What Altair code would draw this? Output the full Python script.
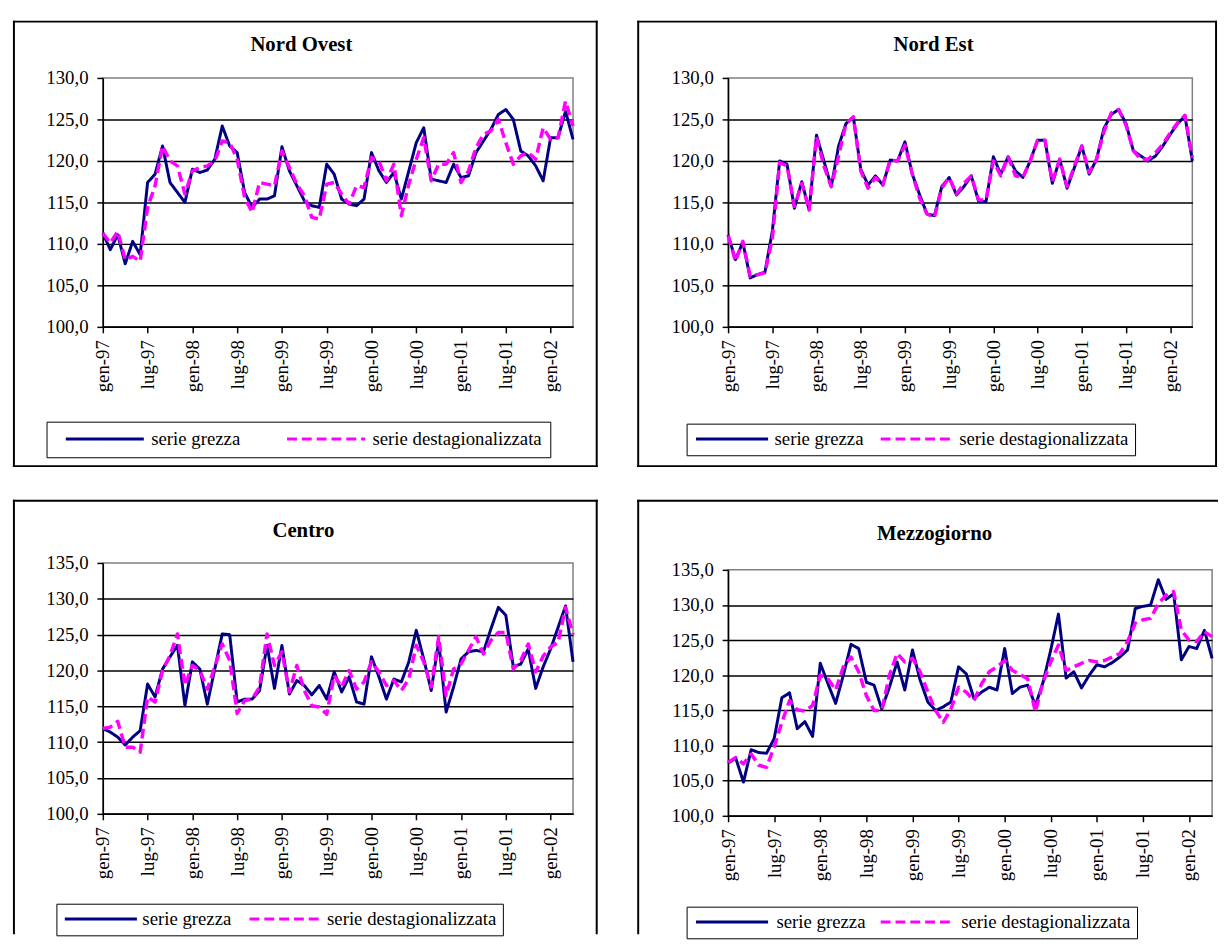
import altair as alt
import pandas as pd

# ---- categories ----
mesi = ["gen", "feb", "mar", "apr", "mag", "giu", "lug", "ago", "set", "ott", "nov", "dic"]
anni = ["97", "98", "99", "00", "01", "02"]
periodi = [f"{m}-{a}" for a in anni for m in mesi][:64]          # gen-97 ... apr-02
etichette = ["gen-97", "lug-97", "gen-98", "lug-98", "gen-99", "lug-99",
             "gen-00", "lug-00", "gen-01", "lug-01", "gen-02"]
serie = ["serie grezza", "serie destagionalizzata"]
titoli = ["Nord Ovest", "Nord Est", "Centro", "Mezzogiorno"]

# ---- values ----
no_grezza = [111.3, 109.3, 111.1, 107.6, 110.3, 108.7, 117.4, 118.4, 121.8, 117.4,
             116.2, 115.0, 119.0, 118.6, 118.9, 120.2, 124.2, 121.8, 121.0, 116.2,
             114.4, 115.4, 115.4, 115.8, 121.7, 118.8, 117.0, 115.2, 114.6, 114.4,
             119.6, 118.4, 115.4, 114.8, 114.6, 115.4, 121.0, 118.8, 117.4, 118.6,
             115.4, 118.8, 122.2, 124.0, 117.8, 117.6, 117.4, 119.6, 118.0, 118.2,
             121.0, 122.4, 123.8, 125.6, 126.2, 125.0, 121.2, 120.6, 119.4, 117.6,
             122.8, 122.8, 126.0, 122.6]
no_dest = [111.3, 110.1, 111.5, 108.1, 108.5, 107.9, 114.4, 117.0, 121.8, 120.0,
           119.4, 116.0, 118.8, 119.2, 119.4, 120.0, 122.4, 122.2, 120.2, 115.6,
           113.8, 117.4, 117.2, 117.0, 121.2, 119.2, 117.2, 115.8, 113.2, 113.0,
           117.2, 117.4, 116.0, 114.8, 117.0, 116.8, 120.4, 120.0, 117.6, 119.6,
           113.4, 117.2, 120.2, 122.8, 117.6, 119.6, 119.6, 121.0, 117.4, 118.8,
           121.6, 123.2, 123.6, 125.0, 122.2, 119.6, 120.6, 121.0, 120.2, 124.0,
           122.6, 122.8, 127.2, 124.2]

ne_grezza = [111.1, 108.1, 110.2, 105.9, 106.3, 106.6, 111.5, 120.0, 119.6, 114.3,
             117.5, 114.1, 123.1, 120.0, 116.9, 121.8, 124.5, 125.3, 119.0, 117.1,
             118.2, 117.1, 120.1, 120.0, 122.3, 118.4, 115.9, 113.6, 113.4, 116.9,
             118.0, 115.9, 116.9, 118.2, 115.1, 115.1, 120.5, 118.4, 120.5, 118.8,
             118.0, 120.0, 122.5, 122.5, 117.3, 120.2, 116.7, 119.2, 121.8, 118.4,
             120.2, 123.9, 125.6, 126.2, 124.5, 121.2, 120.6, 120.0, 120.6, 121.8,
             123.2, 124.5, 125.4, 120.0]
ne_dest = [111.0, 107.9, 110.3, 106.1, 106.3, 106.5, 110.6, 119.8, 119.4, 114.5,
           117.3, 114.1, 122.9, 119.4, 116.9, 120.6, 124.5, 125.3, 118.8, 116.7,
           118.0, 117.1, 120.1, 120.0, 121.9, 118.4, 115.5, 113.6, 113.2, 116.7,
           118.0, 116.0, 117.3, 118.2, 115.3, 115.3, 120.0, 118.2, 120.5, 118.2,
           118.0, 120.0, 122.5, 122.5, 117.5, 120.2, 116.9, 119.4, 121.8, 118.6,
           120.2, 123.5, 125.8, 126.2, 124.3, 121.2, 120.2, 120.2, 121.0, 122.0,
           123.4, 124.6, 125.5, 120.4]

ce_grezza = [111.9, 111.4, 110.7, 109.6, 110.7, 111.6, 118.1, 116.3, 120.2, 121.9,
             123.5, 115.1, 121.2, 120.2, 115.3, 120.2, 125.1, 125.0, 115.6, 116.0,
             116.0, 117.2, 123.5, 117.5, 123.5, 116.7, 118.6, 117.9, 116.6, 117.9,
             116.0, 119.8, 117.0, 119.1, 115.6, 115.3, 121.9, 119.1, 116.0, 118.8,
             118.4, 121.2, 125.6, 121.6, 117.2, 124.0, 114.2, 117.7, 121.6, 122.6,
             122.8, 122.6, 125.8, 128.8, 127.7, 120.5, 120.9, 123.0, 117.5, 120.5,
             123.0, 126.0, 129.0, 121.2]
ce_dest = [111.9, 112.1, 112.9, 109.3, 109.3, 108.6, 116.3, 115.6, 120.0, 122.1,
           125.1, 117.9, 120.7, 120.0, 117.4, 120.5, 123.7, 121.4, 114.0, 115.8,
           116.0, 117.7, 125.1, 120.7, 122.6, 117.0, 120.7, 117.2, 115.1, 114.9,
           113.9, 119.3, 117.7, 120.0, 117.4, 118.4, 121.2, 119.8, 117.9, 118.6,
           117.2, 118.8, 123.5, 121.2, 117.7, 124.7, 116.5, 120.2, 120.9, 122.8,
           124.7, 122.3, 124.2, 125.3, 125.3, 120.2, 121.4, 123.7, 119.8, 122.0,
           123.3, 123.9, 128.8, 125.0]

me_grezza = [107.5, 108.2, 104.8, 109.4, 109.0, 108.9, 111.0, 116.8, 117.5, 112.4,
             113.4, 111.3, 121.7, 118.8, 116.0, 120.0, 124.4, 123.8, 119.0, 118.6,
             115.2, 118.3, 121.9, 117.9, 123.6, 119.3, 116.2, 115.0, 115.5, 116.2,
             121.2, 120.2, 116.7, 117.6, 118.3, 117.9, 123.8, 117.4, 118.3, 118.6,
             115.7, 119.0, 123.6, 128.7, 119.6, 120.5, 118.2, 120.0, 121.5, 121.2,
             121.8, 122.6, 123.6, 129.5, 129.8, 130.0, 133.6, 130.8, 131.6, 122.2,
             124.1, 123.8, 126.4, 122.4]
me_dest = [107.6, 108.3, 107.4, 108.8, 107.2, 106.9, 109.8, 113.3, 116.4, 115.1,
           114.9, 115.7, 120.0, 119.5, 117.9, 121.2, 122.6, 120.5, 117.1, 115.0,
           115.0, 120.0, 123.1, 121.9, 122.4, 120.5, 117.6, 115.0, 113.3, 115.2,
           118.3, 117.6, 116.4, 118.8, 120.5, 121.2, 122.1, 120.7, 120.1, 119.5,
           114.8, 119.0, 121.9, 124.3, 120.7, 121.2, 121.7, 122.1, 121.9, 122.1,
           122.6, 123.1, 124.8, 127.4, 127.9, 128.1, 130.2, 131.4, 131.9, 126.4,
           125.0, 124.8, 126.2, 125.5]

FONT = "Liberation Serif"
UNO = pd.DataFrame({"k": [0]})


def linea(**enc):
    return alt.Chart(UNO).mark_rule(color="black", strokeWidth=2, strokeCap="square").encode(**enc)


def pannello(nome, grezza, dest, ymax, w, h, frame, sides, tx, ty,
             lx, ly, sym, pad, soff, loff, cpad):
    df = pd.DataFrame({
        "periodo": periodi * 2,
        "valore": grezza + dest,
        "serie": [serie[0]] * len(periodi) + [serie[1]] * len(periodi),
    })
    yvals = list(range(100, ymax + 1, 5))
    x = alt.X("periodo:N", sort=periodi, title=None,
              scale=alt.Scale(type="point", padding=0),
              axis=alt.Axis(values=etichette, labelAngle=-90, labelFont=FONT, labelFontSize=19,
                            labelColor="black", labelPadding=7, tickSize=6, tickWidth=1.5,
                            tickColor="black", domainColor="black", domainWidth=1.5,
                            grid=False, labelOverlap=False))
    y = alt.Y("valore:Q", title=None,
              scale=alt.Scale(domain=[100, ymax], nice=False, zero=False),
              axis=alt.Axis(values=yvals,
                            labelExpr="replace(format(datum.value, '.1f'), '.', ',')",
                            labelFont=FONT, labelFontSize=19, labelColor="black",
                            labelPadding=9, tickSize=6, tickWidth=1.5, tickColor="black",
                            domainColor="black", domainWidth=1.5, grid=True, gridWidth=1.5,
                            gridColor={"condition": {"test": f"datum.value == {ymax}",
                                                     "value": "transparent"},
                                       "value": "black"}))
    leg = alt.Legend(title=None, orient="none", legendX=lx, legendY=ly, direction="horizontal",
                     symbolType="stroke", symbolSize=sym * sym, symbolStrokeWidth=3,
                     clipHeight=19, padding=pad, symbolOffset=soff, labelOffset=loff,
                     columnPadding=cpad, gridAlign="none", labelFont=FONT, labelFontSize=19,
                     labelLimit=400, labelColor="black", strokeColor="black", fillColor="white")
    color = alt.Color("serie:N", scale=alt.Scale(domain=serie, range=["#000080", "#FF00FF"]),
                      legend=leg)
    dash = alt.StrokeDash("serie:N", scale=alt.Scale(domain=serie, range=[[1, 0], [10, 5]]),
                          legend=leg)
    base = alt.Chart(df).encode(x=x, y=y, color=color, strokeDash=dash)
    l1 = base.transform_filter(alt.datum.serie == serie[0]).mark_line(strokeWidth=3, strokeJoin="round")
    l2 = base.transform_filter(alt.datum.serie == serie[1]).mark_line(strokeWidth=3.5, strokeJoin="round")

    x1, x2, y1, y2 = frame
    bordi = []
    if "top" in sides:
        bordi.append(linea(x=alt.value(x1), x2=alt.value(x2), y=alt.value(y1)))
    if "bottom" in sides:
        bordi.append(linea(x=alt.value(x1), x2=alt.value(x2), y=alt.value(y2)))
    if "left" in sides:
        bordi.append(linea(x=alt.value(x1), y=alt.value(y1), y2=alt.value(y2)))
    if "right" in sides:
        bordi.append(linea(x=alt.value(x2), y=alt.value(y1), y2=alt.value(y2)))

    titolo = alt.Chart(UNO).mark_text(font=FONT, fontSize=21, fontWeight="bold", color="black",
                                      align="center", baseline="middle").encode(
        x=alt.value(tx), y=alt.value(ty), text=alt.value(nome))

    return alt.layer(*bordi, titolo, l1, l2).properties(width=w, height=h)


p1 = pannello(titoli[0], no_grezza, no_dest, 130, 476, 252, (-90, 500, -57, 393),
              ("top", "bottom", "left", "right"), 201, -33,
              -57, 348, 79, 8, 10, 6, 35)
p2 = pannello(titoli[1], ne_grezza, ne_dest, 130, 470, 252, (-91, 494, -57, 393),
              ("top", "bottom", "left", "right"), 208, -33,
              -42, 350, 73, 6, 2, 5, 13)
p3 = pannello(titoli[2], ce_grezza, ce_dest, 135, 476, 254, (-90, 500, -63, 375),
              ("top", "left", "right"), 203, -32,
              -47, 345, 73, 6, 1, 4, 15)
p4 = pannello(titoli[3], me_grezza, me_dest, 135, 490, 249, (-91, 495, -70, 368),
              ("top", "left"), 209, -36,
              -42, 341, 73, 6, 2, 7, 11)

chart = alt.concat(p1, p2, p3, p4, columns=2, align="none",
                   spacing={"row": 29, "column": 36}).resolve_scale(
    color="independent", strokeDash="independent"
).resolve_legend(color="independent", strokeDash="independent").properties(
    padding={"left": 3, "top": 5, "right": 0, "bottom": 0}, background="white"
).configure_view(stroke="#808080", strokeWidth=1.5)

chart.save("out.html", embed_options={"renderer": "svg", "actions": False})
